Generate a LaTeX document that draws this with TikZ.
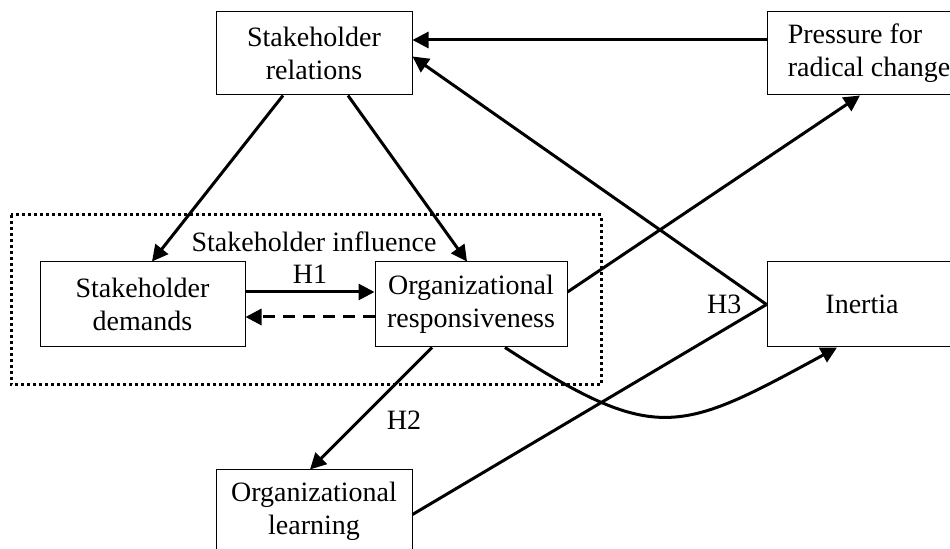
\documentclass[tikz,border=0pt]{standalone}
\usepackage{fontspec}
\setmainfont{Liberation Serif}
\usetikzlibrary{arrows.meta,positioning}

\begin{document}
\begin{tikzpicture}[x=0.5pt, y=-0.5pt,
  font=\fontsize{14pt}{16.5pt}\selectfont,
  box/.style={draw, line width=0.5pt, align=center, inner sep=0pt},
  link/.style={line width=1.5pt, -{Triangle[length=8pt,width=8pt]}},
  plain/.style={line width=1.5pt},
  group/.style={draw, line width=1.5pt, dash pattern=on 1.5pt off 1.5pt}]

\useasboundingbox (0,0) rectangle (950,549);

% Stakeholder influence group
\draw[group] (11,215) rectangle (601,385);
\node (infl) at (314,242) {Stakeholder influence};

% Boxes
\node[box, minimum width=98pt, minimum height=41.5pt] (rel) at (314,53.5) {Stakeholder\\relations};
\node[box, align=left, minimum width=102pt, minimum height=41.5pt] (press) at (869,53.5) {Pressure for\\radical change};
\node[box, minimum width=102.5pt, minimum height=42.5pt] (dem) at (142.5,304.5) {Stakeholder\\demands};
\node[box, minimum width=96pt, minimum height=42.5pt] (resp) at (471,304.5) {Organizational\\responsiveness};
\node[box, minimum width=95pt, minimum height=42.5pt] (inert) at (862,304.5) {Inertia};
\node[box, minimum width=98pt, minimum height=41.5pt] (learn) at (314,511.5) {Organizational\\learning};
\node (h3) [left=9pt of inert.west] {H3};

% Arrows
\draw[link] ([xshift=-15.5pt]rel.south) -- ([xshift=4.75pt]dem.north);
\draw[link] ([xshift=17pt]rel.south) -- ([xshift=-2pt]resp.north);
\draw[link] ([yshift=6.75pt]press.west) -- ([yshift=6.75pt]rel.east);
\draw[link] (inert.west) -- ([yshift=-1.5pt]rel.east);
\draw[plain] ([yshift=-1.5pt]learn.east) -- (inert.west);
\draw[link] ([yshift=6.25pt]dem.east) -- node[above] {H1} ([yshift=6.25pt]resp.west);
\draw[link, dash pattern=on 6pt off 4pt] ([yshift=-6.25pt]resp.west) -- ([yshift=-6.25pt]dem.east);
\draw[link] ([xshift=-19.5pt]resp.south) -- node[pos=0.6, right=10pt] {H2} ([xshift=-2pt]learn.north);
\draw[link] ([yshift=6.25pt]resp.east) -- ([xshift=-4.5pt]press.south);
\draw[link] ([xshift=17pt]resp.south) .. controls +(151,98) and +(-158,86) .. ([xshift=-12.5pt]inert.south);

\end{tikzpicture}
\end{document}
